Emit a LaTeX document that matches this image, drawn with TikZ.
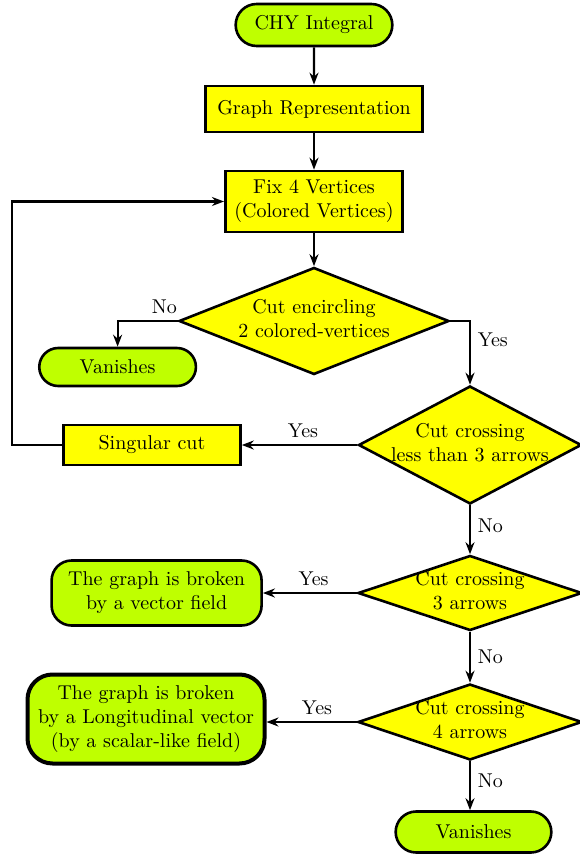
\documentclass[tikz,border=0pt]{standalone}
\usepackage{tikz}
\usetikzlibrary{shapes.geometric,shapes.misc,arrows.meta}
\definecolor{limegreen}{RGB}{191,255,0}
\definecolor{boxyellow}{RGB}{255,255,0}
\def\dlines#1{\makebox[0pt]{\begin{tabular}{@{}c@{}}#1\end{tabular}}}
\tikzset{
	startstop/.style={rounded rectangle, draw, line width=1.3pt, fill=limegreen},
	process/.style={rectangle, draw, line width=1.3pt, fill=boxyellow, align=center},
	decision/.style={diamond, draw, line width=1.3pt, fill=boxyellow, inner sep=0pt},
	outcome/.style={rectangle, rounded corners=10pt, draw, line width=1.3pt, fill=limegreen, align=center},
	arr/.style={-{Stealth[length=6pt,width=4.5pt]}, line width=1.1pt},
}

\begin{document}
\begin{tikzpicture}[x=0.5pt, y=-0.5pt]
			%%%%% START %%%%%
			
			\useasboundingbox (0, 0) rectangle (579, 855);
			
			\node[startstop, minimum width=85pt, minimum height=21pt] (chy) at (314, 25) {CHY Integral};
			\node[process, minimum width=108.5pt, minimum height=23pt] (rep) at (314, 109) {Graph Representation};
			\node[process, minimum width=88.75pt, minimum height=30.5pt] (fix) at (314, 201.5) {Fix 4 Vertices\\(Colored Vertices)};
			
			\node[decision, minimum width=135pt, minimum height=53.5pt] (enc) at (314, 321) {\dlines{Cut encircling\\2 colored-vertices}};
			\node[startstop, minimum width=85pt, minimum height=19pt] (van1) at (117.6, 367) {Vanishes};
			
			\node[decision, minimum width=111.5pt, minimum height=59pt] (less) at (470, 445) {\dlines{Cut crossing\\less than 3 arrows}};
			\node[process, minimum width=88.5pt, minimum height=20pt] (sing) at (152, 445) {Singular cut};
			
			\node[decision, minimum width=112pt, minimum height=37.5pt] (three) at (470, 593) {\dlines{Cut crossing\\3 arrows}};
			\node[outcome, minimum width=105pt, minimum height=32.5pt] (vec) at (156.6, 593) {The graph is broken\\by a vector field};
			
			\node[decision, minimum width=112pt, minimum height=38pt] (four) at (470, 722) {\dlines{Cut crossing\\4 arrows}};
			\node[outcome, line width=2pt, rounded corners=12.5pt, minimum width=118.5pt, minimum height=44.5pt] (lon) at (146, 719) {The graph is broken\\by a Longitudinal vector\\(by a scalar-like field)};
			
			\node[startstop, minimum width=84.5pt, minimum height=20.5pt] (van2) at (473.5, 832) {Vanishes};
			
			\draw[arr] (chy) -- (rep);
			\draw[arr] (rep) -- (fix);
			\draw[arr] (fix) -- (enc);
			\draw[arr] (enc.west) -| node[pos=0.11, above] {No} (van1.north);
			\draw[arr] (enc.east) -| node[pos=0.65, right] {Yes} (less.north);
			\draw[arr] (less.west) -- node[pos=0.47, above] {Yes} (sing.east);
			
			\coordinate (back) at (12, 445);
			\draw[arr] (sing.west) -- (back) |- (fix.west);
			
			\draw[arr] (less.south) -- node[pos=0.42, right] {No} (three.north);
			\draw[arr] (three.west) -- node[pos=0.46, above] {Yes} (vec.east);
			\draw[arr] (three.south) -- node[right] {No} (four.north);
			\draw[arr] (four.west) -- node[pos=0.44, above] {Yes} (four.west -| lon.east);
			\draw[arr] (four.south) -- node[pos=0.4, right] {No} (four.south |- van2.north);
			
			%%%%% END %%%%%
\end{tikzpicture}
\end{document}
